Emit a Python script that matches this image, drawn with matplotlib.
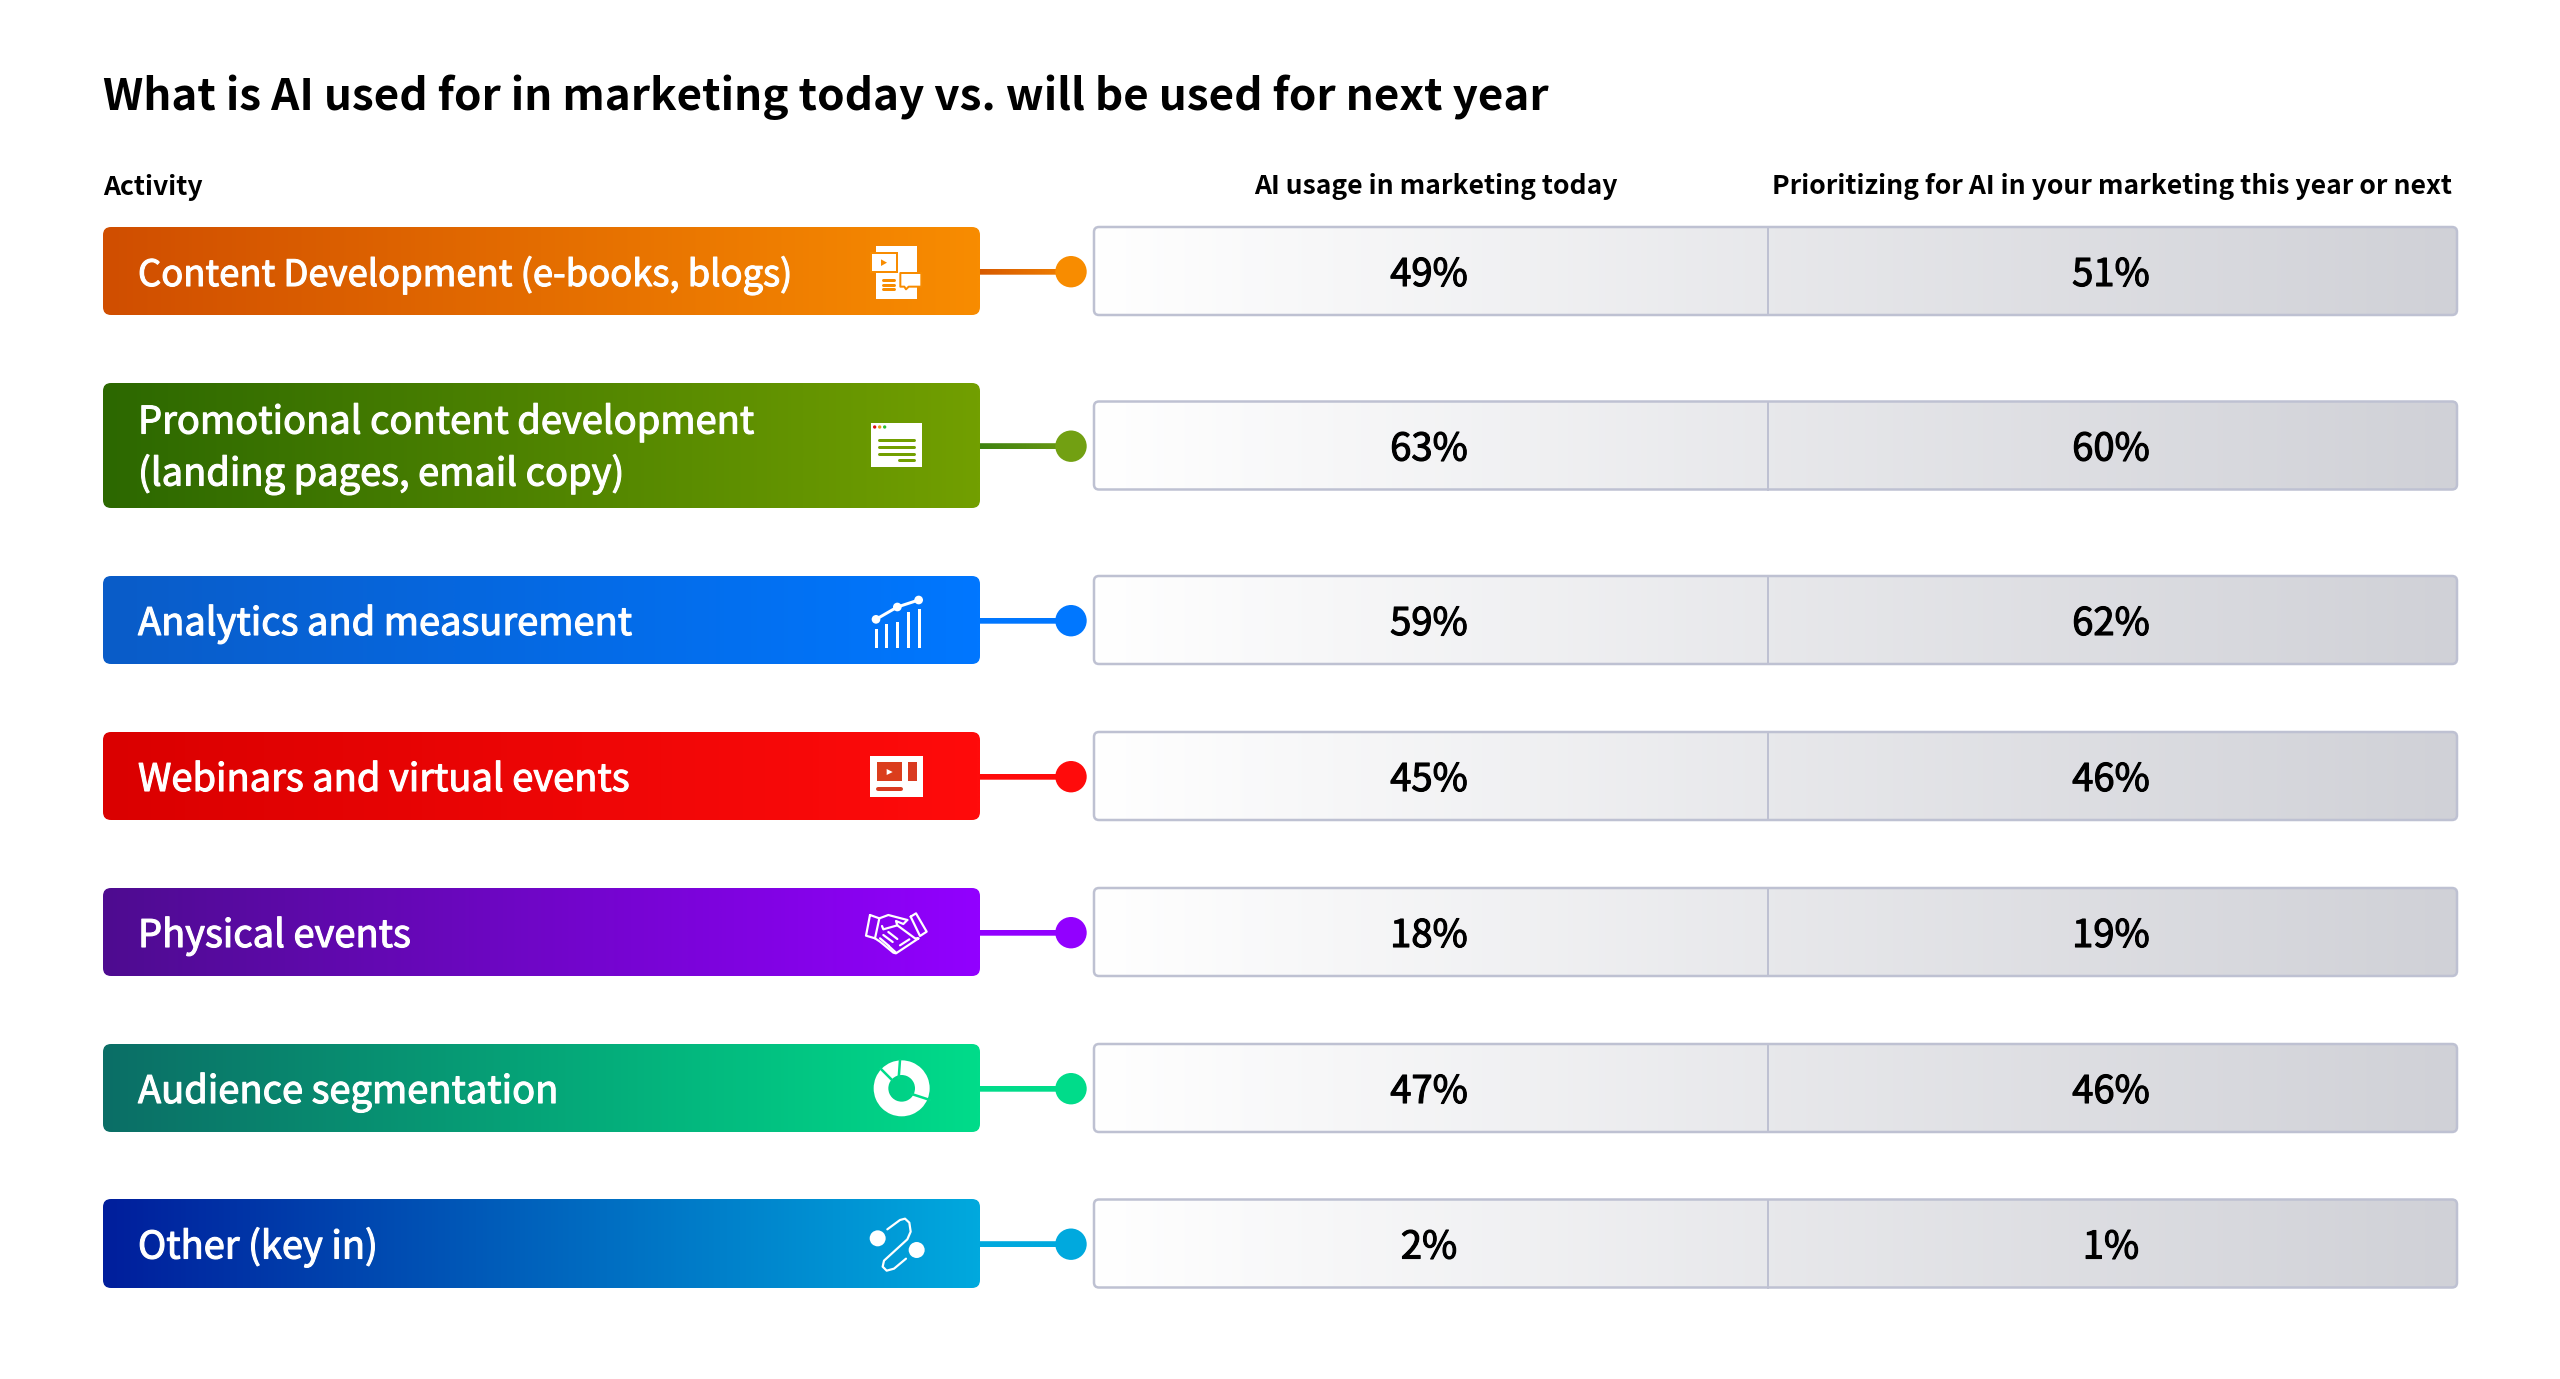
import numpy as np
import matplotlib
matplotlib.use('Agg')
import matplotlib.pyplot as plt
import matplotlib.patheffects as pe
from matplotlib.patches import FancyBboxPatch, Rectangle, Circle, Polygon, Wedge
from matplotlib.colors import LinearSegmentedColormap

plt.rcParams['font.family'] = ['Noto Sans CJK SC', 'DejaVu Sans']

# Data
title = 'What is AI used for in marketing today vs. will be used for next year'
header_activity = 'Activity'
header_today = 'AI usage in marketing today'
header_next = 'Prioritizing for AI in your marketing this year or next'
activities = [
    'Content Development (e-books, blogs)',
    'Promotional content development\n(landing pages, email copy)',
    'Analytics and measurement',
    'Webinars and virtual events',
    'Physical events',
    'Audience segmentation',
    'Other (key in)',
]
usage_today = [49, 63, 59, 45, 18, 47, 2]
priority_next = [51, 60, 62, 46, 19, 46, 1]

# Colours
left_colors = ['#D04E00', '#2C6800', '#0A5CC8', '#DA0000', '#4E0C90', '#0B6E66', '#001E9C']
right_colors = ['#F88C00', '#729F00', '#0077FF', '#FF0B0B', '#9200FF', '#00DC8A', '#00A9DE']
link_left = ['#D75A00', '#3E8210', '#0077FF', '#FF0B0B', '#9200FF', '#00DC8A', '#00A9DE']
link_right = ['#F08000', '#6C9A12', '#0077FF', '#FF0B0B', '#9200FF', '#00DC8A', '#00A9DE']
dot_colors = ['#F88C00', '#72A012', '#0077FF', '#FF0B0B', '#9200FF', '#00DC8A', '#00A9DE']
border = '#BEC1D2'

# Layout in pixels of the 2560x1379 image
bar_tops = [227, 383, 576, 732, 888, 1044, 1199]
bar_bottoms = [315, 508, 664, 820, 976, 1132, 1288]
label_sizes = [26.2, 27.4, 27.4, 27.4, 27.4, 27.4, 27.4]
bar_x0, bar_x1 = 103, 980
dot_x, dot_r = 1071, 15.7
tab_x0, tab_div, tab_x1 = 1094, 1768, 2457

fig = plt.figure(figsize=(25.6, 13.79), dpi=100)
ax = fig.add_axes([0, 0, 1, 1])
ax.set_xlim(0, 2560)
ax.set_ylim(1379, 0)
ax.axis('off')


def px(n):
    return n * 0.72


def gradient_box(x0, y0, x1, y1, c0, c1, rounding, edge=None, z=2):
    cmap = LinearSegmentedColormap.from_list('g', [c0, c1])
    im = ax.imshow(np.linspace(0, 1, 512).reshape(1, -1), cmap=cmap, extent=(x0, x1, y1, y0),
                   aspect='auto', zorder=z, interpolation='bilinear')
    box = FancyBboxPatch((x0, y0), x1 - x0, y1 - y0, boxstyle=f'round,pad=0,rounding_size={rounding}',
                         fc='none', ec=edge if edge else 'none', lw=px(2.5), zorder=z + 0.1)
    ax.add_patch(box)
    im.set_clip_path(box)


def seg(x, y, xs, ys, color, w, z=5):
    # xs, ys are in zoomed crop units, 3 per image pixel
    ax.plot([x + v / 3 for v in xs], [y + v / 3 for v in ys], color=color, lw=px(w),
            solid_capstyle='round', solid_joinstyle='round', zorder=z)


def rect(x, y, x0, y0, x1, y1, fc, ec='none', w=0, z=4):
    ax.add_patch(Rectangle((x + x0 / 3, y + y0 / 3), (x1 - x0) / 3, (y1 - y0) / 3, fc=fc, ec=ec, lw=px(w), zorder=z))


def poly(x, y, pts, fc, ec='none', w=0, z=5):
    ax.add_patch(Polygon([(x + a / 3, y + b / 3) for a, b in pts], closed=True, fc=fc, ec=ec, lw=px(w), zorder=z,
                         joinstyle='round'))


def circle(x, y, cx, cy, r, fc, z=5):
    ax.add_patch(Circle((x + cx / 3, y + cy / 3), r / 3, fc=fc, ec='none', zorder=z))


def icon_content(x, y, c):
    rect(x, y, 167, 139, 292, 297, 'white')
    rect(x, y, 154, 160, 231, 215, 'white', c, 2, z=5)
    poly(x, y, [(183, 178), (201, 188), (183, 198)], c, z=6)
    for v in (240, 254, 268):
        seg(x, y, [189, 221], [v, v], c, 3)
    poly(x, y, [(241, 219), (304, 219), (304, 260), (266, 260), (258, 268), (253, 260), (241, 260)], 'white', c, 2)


def icon_page(x, y, c):
    rect(x, y, 152, 669, 306, 801, 'white')
    for cx, col in zip((164, 179, 194), ('#E01010', '#F09A10', '#30C030')):
        circle(x, y, cx, 681, 5, col)
    for v in (720, 741, 761):
        seg(x, y, [178, 281], [v, v], c, 3)
    seg(x, y, [238, 281], [781, 781], c, 3)


def icon_chart(x, y, c):
    xs = (168, 200, 233, 265, 298)
    tops = (208, 193, 186, 157, 146)
    for a, b in zip(xs, tops):
        rect(x, y, a - 4.5, b, a + 4.5, 263, 'white')
    seg(x, y, [168, 232, 296], [178, 141, 120], 'white', 3)
    for a, b in zip((168, 232, 296), (178, 141, 120)):
        circle(x, y, a, b, 13, 'white')


def icon_webinar(x, y, c):
    rect(x, y, 149, 587, 308, 712, 'white')
    rect(x, y, 170, 607, 246, 664, c, z=5)
    rect(x, y, 263, 607, 291, 663, '#D93A20', z=5)
    poly(x, y, [(200, 627), (218, 636), (200, 645)], 'white', z=6)
    seg(x, y, [174, 243], [686, 686], '#D93A20', 4)


def icon_hands(x, y, c):
    w = 2.2
    lines = [
        ([150, 178, 165, 138, 150], [135, 145, 205, 197, 135]),
        ([272, 288, 320, 300, 272], [140, 130, 185, 198, 140]),
        ([178, 205, 262], [145, 135, 150]),
        ([262, 250, 228, 232, 190, 186], [150, 162, 153, 166, 178, 168]),
        ([232, 285, 296, 228, 220, 180, 165], [166, 205, 205, 250, 248, 215, 205]),
        ([190, 218], [195, 216]),
        ([205, 232], [186, 207]),
        ([180, 207], [205, 228]),
        ([206, 228], [228, 248]),
        ([240, 268], [226, 208]),
    ]
    for a, b in lines:
        seg(x, y, a, b, 'white', w)


def icon_donut(x, y, c):
    cx, cy = x + 245 / 3, y + 655 / 3
    ax.add_patch(Wedge((cx, cy), 84 / 3, 0, 360, width=44 / 3, fc='white', ec='none', zorder=4))
    seg(x, y, [240, 236], [570, 625], c, 2.5)
    seg(x, y, [182, 216], [596, 630], c, 2.5)
    seg(x, y, [275, 330], [672, 690], c, 2.5)


def icon_link(x, y, c):
    circle(x, y, 173, 1105, 24, 'white')
    circle(x, y, 290, 1140, 24, 'white')
    seg(x, y, [202, 240, 255, 268, 272, 262, 192, 188, 200, 222, 258],
        [1078, 1050, 1046, 1058, 1085, 1108, 1172, 1190, 1202, 1196, 1166], 'white', 2.2)


icons = [icon_content, icon_page, icon_chart, icon_webinar, icon_hands, icon_donut, icon_link]
# crop origins the icon sketches were measured from
icon_origins = [(820, 200), (820, 200), (820, 560), (820, 560), (820, 870), (820, 870), (820, 870)]

ax.text(bar_x0, 110, title, fontsize=31.7, fontweight='bold', color='black', va='baseline')
ax.text(bar_x0, 195, header_activity, fontsize=19.1, fontweight='bold', color='black', va='baseline')
ax.text(1436, 194, header_today, fontsize=19.1, fontweight='bold', color='black', va='baseline', ha='center')
ax.text(2112, 194, header_next, fontsize=19.1, fontweight='bold', color='black', va='baseline', ha='center')

for i, name in enumerate(activities):
    top, bot = bar_tops[i], bar_bottoms[i]
    mid = (top + bot) / 2
    c0, c1 = left_colors[i], right_colors[i]
    gradient_box(bar_x0, top, bar_x1, bot, c0, c1, 8)

    # connector and dot
    gradient_box(bar_x1, mid - 2.3, dot_x, mid + 3.7, link_left[i], link_right[i], 0.1, z=1.5)
    ax.add_patch(Circle((dot_x, mid + 0.7), dot_r, fc=dot_colors[i], ec='none', zorder=3))

    # two-cell value table
    tab_top, tab_bot = mid - 44, mid + 44
    gradient_box(tab_x0, tab_top, tab_x1, tab_bot, '#FFFFFF', '#D0D1D7', 5, edge=border)
    ax.plot([tab_div, tab_div], [tab_top, tab_bot], color=border, lw=px(2), zorder=3)

    for x_val, v in ((1429, usage_today[i]), (2111, priority_next[i])):
        ax.text(x_val, mid + 15, f'{v}%', fontsize=27.5, color='black', ha='center', va='baseline', zorder=6,
                path_effects=[pe.withStroke(linewidth=0.8, foreground='black')])

    lines = name.split('\n')
    if len(lines) == 1:
        baselines = [mid + 15]
    else:
        baselines = [mid - 12, mid + 40]
    for line, base in zip(lines, baselines):
        ax.text(138, base, line, fontsize=label_sizes[i], color='white', va='baseline', zorder=6,
                path_effects=[pe.withStroke(linewidth=0.8, foreground='white')])

    ox, oy = icon_origins[i]
    icons[i](ox, oy, c1 if i != 3 else '#DB3D1C')

fig.savefig('out.png', dpi=100, facecolor='white')
